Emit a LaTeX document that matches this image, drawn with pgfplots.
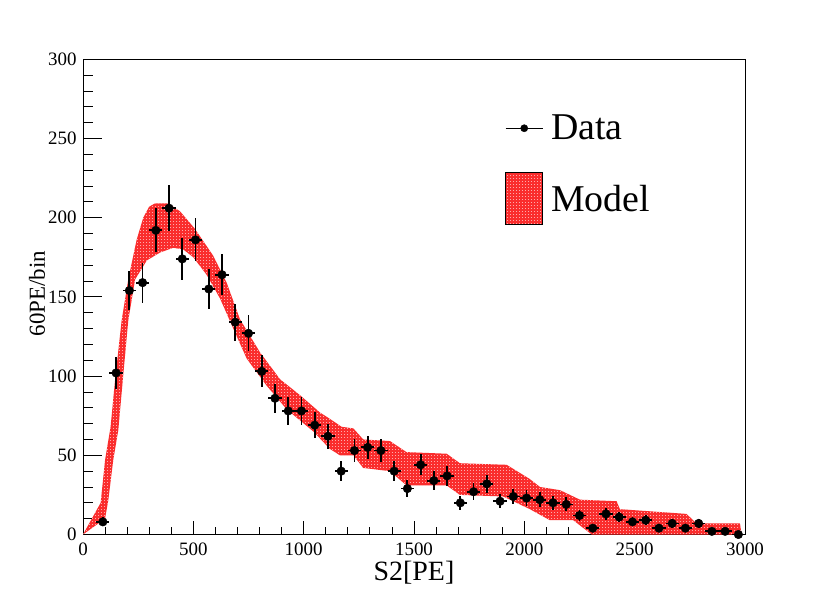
\documentclass[border=0pt]{standalone}
\usepackage{fontspec}
\setmainfont{Liberation Serif}
\usepackage{pgfplots}
\usepackage{pgfplotstable}
\pgfplotsset{compat=1.18}
\usetikzlibrary{patterns}
\pgfdeclarepatternformonly{rootdots}{\pgfpointorigin}{\pgfqpoint{2.6bp}{2.6bp}}{\pgfqpoint{2.6bp}{2.6bp}}{\pgfpathrectangle{\pgfpointorigin}{\pgfqpoint{1.1bp}{1.1bp}}\pgfusepath{fill}}
\definecolor{rootred}{RGB}{250,45,45}

\pgfplotstableread{
x y ex ey
90 8 30 2.83
150 102 30 10.10
210 154 30 12.41
270 159 30 12.61
330 192 30 13.86
390 206 30 14.35
450 174 30 13.19
510 186 30 13.64
570 155 30 12.45
630 164 30 12.81
690 134 30 11.58
750 127 30 11.27
810 103 30 10.15
870 86 30 9.27
930 78 30 8.83
990 78 30 8.83
1050 69 30 8.31
1110 62 30 7.87
1170 40 30 6.32
1230 53 30 7.28
1290 55 30 7.42
1350 53 30 7.28
1410 40 30 6.32
1470 29 30 5.39
1530 44 30 6.63
1590 34 30 5.83
1650 37 30 6.08
1710 20 30 4.47
1770 27 30 5.20
1830 32 30 5.66
1890 21 30 4.58
1950 24 30 4.90
2010 23 30 4.80
2070 22 30 4.69
2130 20 30 4.47
2190 19 30 4.36
2250 12 30 3.46
2310 4 30 2.00
2370 13 30 3.61
2430 11 30 3.32
2490 8 30 2.83
2550 9 30 3.00
2610 4 30 2.00
2670 7 30 2.65
2730 4 30 2.00
2790 7 30 2.65
2850 2 30 1.41
2910 2 30 1.41
2970 0 30 0
}\datatable

\begin{document}
\begin{tikzpicture}
\path[use as bounding box] (0,0) rectangle (830bp,596bp);
% y-axis ticks (longer ticks)
\begin{axis}[
  at={(83bp,61.5bp)}, anchor=south west,
  scale only axis, width=662bp, height=475.2bp,
  xmin=0, xmax=3000, ymin=0, ymax=300,
  xtick=\empty,
  ytick={0,50,100,150,200,250,300},
  minor y tick num=4,
  tick pos=left, tick align=inside,
  major tick length=19bp, minor tick length=10bp,
  axis line style={line width=0.8bp},
  every tick/.style={line width=0.8bp, black},
  /pgf/number format/assume math mode=true,
  yticklabel style={font=\fontsize{19}{19}\selectfont, inner sep=0pt, xshift=-6.3bp},
  ylabel={60PE/bin},
  ylabel style={at={(axis description cs:-0.0574,0.507)}, anchor=base, font=\fontsize{23}{23}\selectfont},
]
\end{axis}
\begin{axis}[
  at={(83bp,61.5bp)}, anchor=south west,
  scale only axis, width=662bp, height=475.2bp,
  xmin=0, xmax=3000, ymin=0, ymax=300,
  ytick=\empty,
  xtick={0,500,1000,1500,2000,2500,3000},
  minor x tick num=4,
  tick pos=left, tick align=inside,
  major tick length=13bp, minor tick length=7bp,
  axis line style={line width=0.8bp},
  every tick/.style={line width=0.8bp, black},
  /pgf/number format/assume math mode=true,
  /pgf/number format/1000 sep={},
  xticklabel style={font=\fontsize{19}{19}\selectfont, inner sep=0pt, yshift=-8.5bp},
  xlabel={S2[PE]},
  xlabel style={at={(axis description cs:0.5,-0.096)}, anchor=base, font=\fontsize{28}{28}\selectfont},
  legend style={draw=none, fill=none, at={(axis description cs:0.6375,0.883)}, anchor=north west,
    font=\fontsize{38}{38}\selectfont, row sep=31bp, column sep=8bp, inner sep=0pt,
    nodes={inner sep=0pt}},
  legend cell align=left,
]
\addplot[draw=none, fill=rootred, postaction={pattern=rootdots, pattern color=white!60!rootred}, forget plot] coordinates {
(0,0) (80,20) (100,47) (125,68) (145,97) (175,135) (205,161) (243,186) (273,200) (300,207) (326,209) (387,209) (440,204) (507,193) (590,176) (651,159) (711,136) (802,115) (893,98) (983,88) (1074,77) (1119,73) (1172,68) (1225,67) (1270,60) (1391,59) (1466,52) (1648,51) (1708,45) (1920,44) (2025,35) (2071,30) (2161,28) (2252,22) (2418,21) (2433,16) (2735,13) (2780,7) (2977,7) (2985,0)
(2305,0) (2222,9) (2116,9) (2025,16) (1904,24) (1708,25) (1648,31) (1466,31) (1391,40) (1270,42) (1225,50) (1164,50) (1119,54) (1044,65) (923,79) (832,94) (742,111) (681,130) (621,149) (560,164) (500,175) (454,180) (409,181) (349,178) (289,173) (236,161) (205,135) (180,97) (160,66) (137,47) (115,22) (100,10) (0,0)
} \closedcycle;
\addplot[black, only marks, mark=*, mark size=4.3bp,
  legend image code/.code={
    \draw[black, line width=1bp] (0bp,0bp) -- (37bp,0bp);
    \fill[black] (18.5bp,0bp) circle (3.6bp);},
  error bars/.cd, x dir=both, x explicit, y dir=both, y explicit,
  error bar style={line width=1.8bp, black}, error mark=none,
  ] table[x=x, y=y, x error=ex, y error=ey] {\datatable};
\addlegendentry{Data}
\addlegendimage{legend image code/.code={
  \draw[black, line width=0.8bp, fill=rootred, postaction={pattern=rootdots, pattern color=white!60!rootred}] (0bp,-26bp) rectangle (37bp,26bp);}}
\addlegendentry{Model}
\end{axis}
\end{tikzpicture}
\end{document}
